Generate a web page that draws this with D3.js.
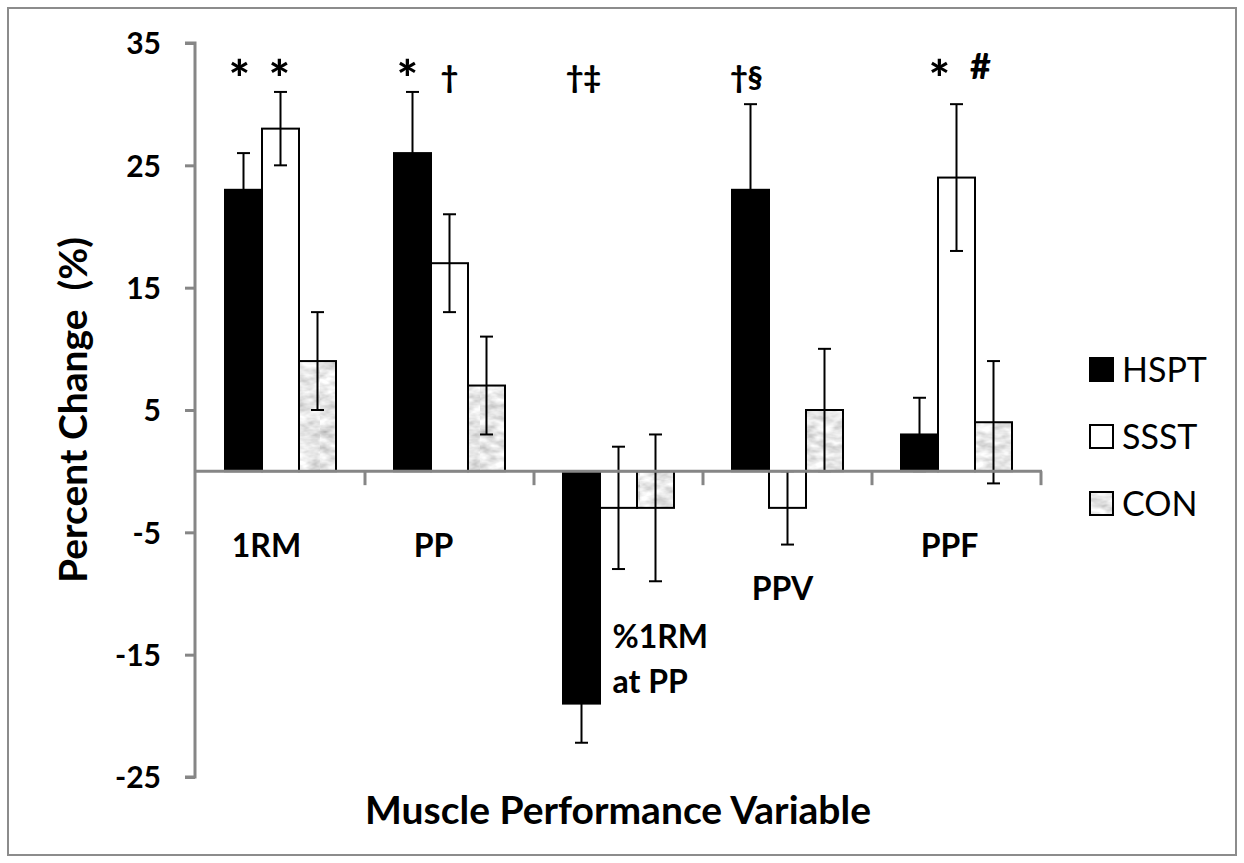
<!DOCTYPE html>
<html>
<head>
<meta charset="utf-8">
<script src="https://cdn.jsdelivr.net/npm/d3@7"></script>
<style>
  html, body { margin: 0; padding: 0; background: #fff; }
  svg { display: block; }
  text { font-family: Lato, "Open Sans", sans-serif; }
</style>
</head>
<body>
<svg id="chart" width="1244" height="863"></svg>
<script>
// ---------- data ----------
const categories = ["1RM", "PP", "%1RM at PP", "PPV", "PPF"];
const series = ["HSPT", "SSST", "CON"];
const hsptValues = [23, 26, -19, 23, 3];
const ssstValues = [28, 17, -3, -3, 24];
const conValues  = [9, 7, -3, 5, 4];
const hsptErrors = [3, 5, 3.2, 7, 3];
const ssstErrors = [3, 4, 5, 3, 6];
const conErrors  = [4, 4, 6, 5, 5];
const yTicks = [35, 25, 15, 5, -5, -15, -25];
// significance markers: [category, series, text]
const markCats   = ["1RM", "1RM", "PP", "PP", "%1RM at PP", "PPV", "PPF", "PPF"];
const markSeries = ["HSPT", "SSST", "HSPT", "SSST", "HSPT", "HSPT", "HSPT", "SSST"];
const markTexts  = ["*", "*", "*", "†", "†‡", "†§", "*", "#"];

// ---------- layout ----------
const svg = d3.select("#chart");
const W = 1244, H = 863;
const plotLeft = 196, plotRight = 1041, plotTop = 43, plotBottom = 777;

svg.append("rect").attr("x", 8).attr("y", 8).attr("width", W - 16).attr("height", H - 16)
  .attr("fill", "#fff").attr("stroke", "#8c8c8c").attr("stroke-width", 2);

// texture for CON bars
const defs = svg.append("defs");
const filt = defs.append("filter").attr("id", "marble")
  .attr("x", 0).attr("y", 0).attr("width", 1).attr("height", 1);
filt.append("feTurbulence").attr("type", "fractalNoise")
  .attr("baseFrequency", "0.06 0.12").attr("numOctaves", 3).attr("seed", 7).attr("result", "n");
filt.append("feColorMatrix").attr("in", "n").attr("type", "matrix")
  .attr("values", "0.85 0 0 0 0.38  0.85 0 0 0 0.38  0.85 0 0 0 0.38  0 0 0 0 1");
const pat = defs.append("pattern").attr("id", "conTex")
  .attr("patternUnits", "userSpaceOnUse").attr("width", 160).attr("height", 160);
pat.append("rect").attr("width", 160).attr("height", 160).attr("fill", "#ddd").attr("filter", "url(#marble)");

const y = d3.scaleLinear().domain([-25, 35]).range([plotBottom, plotTop]);
const x0 = d3.scaleBand().domain(categories).range([plotLeft, plotRight]).padding(0);
const groupW = 111;
const x1 = d3.scaleBand().domain(series).range([0, groupW]).padding(0);
const groupOffset = (x0.bandwidth() - groupW) / 2;

const valuesBySeries = { HSPT: hsptValues, SSST: ssstValues, CON: conValues };
const errorsBySeries = { HSPT: hsptErrors, SSST: ssstErrors, CON: conErrors };
const fills = { HSPT: "#000", SSST: "#fff", CON: "url(#conTex)" };

const bars = [];
series.forEach(s => categories.forEach((c, i) => {
  bars.push({ cat: c, ser: s, v: valuesBySeries[s][i], e: errorsBySeries[s][i] });
}));

const barX = d => x0(d.cat) + groupOffset + x1(d.ser);

svg.append("g").selectAll("rect").data(bars).join("rect")
  .attr("x", d => barX(d))
  .attr("y", d => y(Math.max(0, d.v)))
  .attr("width", x1.bandwidth())
  .attr("height", d => Math.abs(y(d.v) - y(0)))
  .attr("fill", d => fills[d.ser])
  .attr("stroke", "#000").attr("stroke-width", 2);

// error bars
const eb = svg.append("g").attr("stroke", "#000").attr("stroke-width", 2);
bars.forEach(d => {
  const cx = barX(d) + x1.bandwidth() / 2;
  const capW = 6.5;
  eb.append("line").attr("x1", cx).attr("x2", cx).attr("y1", y(d.v + d.e)).attr("y2", y(d.v - d.e));
  eb.append("line").attr("x1", cx - capW).attr("x2", cx + capW).attr("y1", y(d.v + d.e)).attr("y2", y(d.v + d.e));
  eb.append("line").attr("x1", cx - capW).attr("x2", cx + capW).attr("y1", y(d.v - d.e)).attr("y2", y(d.v - d.e));
});

// axes
const axisColor = "#868686";
const yAxis = d3.axisLeft(y).tickValues(yTicks).tickSize(10).tickFormat(d => String(d));
const yg = svg.append("g").attr("transform", `translate(${plotLeft - 1},0)`).call(yAxis);
yg.select(".domain").attr("stroke", axisColor).attr("stroke-width", 3).attr("d", `M-10,${y(35)}H0V${y(-25)}H-10`);
yg.selectAll(".tick line").attr("stroke", axisColor).attr("stroke-width", 3);
yg.selectAll(".tick text").attr("x", -34).attr("dy", "0.36em")
  .attr("font-size", 30).attr("font-weight", "bold").attr("fill", "#000")
  .attr("font-family", "Lato, sans-serif");

// zero line with category ticks
const xg = svg.append("g");
xg.append("line").attr("x1", plotLeft - 2).attr("x2", plotRight + 1).attr("y1", y(0)).attr("y2", y(0))
  .attr("stroke", axisColor).attr("stroke-width", 3);
const bounds = categories.map(c => x0(c)).concat([plotRight]);
xg.selectAll("line.tk").data(bounds.slice(1)).join("line").attr("class", "tk")
  .attr("x1", d => d).attr("x2", d => d).attr("y1", y(0)).attr("y2", y(0) + 14)
  .attr("stroke", axisColor).attr("stroke-width", 3);

// category labels
const catLabelPos = {
  "1RM": { dx: -14, y: 557, anchor: "middle" },
  "PP": { dx: -16, y: 557, anchor: "middle" },
  "%1RM at PP": { dx: -6, y: 648, anchor: "start" },
  "PPV": { dx: -5, y: 600, anchor: "middle" },
  "PPF": { dx: -7, y: 557, anchor: "middle" }
};
categories.forEach(c => {
  const p = catLabelPos[c];
  const cx = x0(c) + x0.bandwidth() / 2 + p.dx;
  const t = svg.append("text").attr("x", cx).attr("y", p.y).attr("text-anchor", p.anchor)
    .attr("font-size", 32).attr("font-weight", "bold");
  if (c === "%1RM at PP") {
    t.append("tspan").attr("x", cx).text("%1RM");
    t.append("tspan").attr("x", cx).attr("dy", 45).text("at PP");
  } else {
    t.text(c);
  }
});

// significance markers
const markDx = [-4, -1, -5, 0, 2, -4, 20, 24];
markTexts.forEach((m, i) => {
  const d = { cat: markCats[i], ser: markSeries[i] };
  const cx = barX(d) + x1.bandwidth() / 2 + markDx[i];
  const big = m === "*";
  svg.append("text").attr("x", cx)
    .attr("y", big ? 97 : (m === "#" ? 79 : 88))
    .attr("text-anchor", "middle")
    .attr("font-size", big ? 50 : (m === "#" ? 36 : 30))
    .attr("font-weight", "900").text(m);
});

// axis titles
svg.append("text").attr("x", 618).attr("y", 824).attr("text-anchor", "middle")
  .attr("font-size", 39).attr("font-weight", "bold").text("Muscle Performance Variable");
svg.append("text").attr("transform", "translate(87,410) rotate(-90)").attr("text-anchor", "middle")
  .attr("font-size", 39).attr("font-weight", "bold").attr("xml:space", "preserve").text("Percent Change  (%)");

// legend
const legY = [370, 437, 504];
series.forEach((s, i) => {
  svg.append("rect").attr("x", 1090).attr("y", legY[i] - 12).attr("width", 23).attr("height", 23)
    .attr("fill", fills[s]).attr("stroke", "#000").attr("stroke-width", 2);
  svg.append("text").attr("x", 1122).attr("y", legY[i] + 12).attr("font-size", 34).text(s);
});
</script>
</body>
</html>
